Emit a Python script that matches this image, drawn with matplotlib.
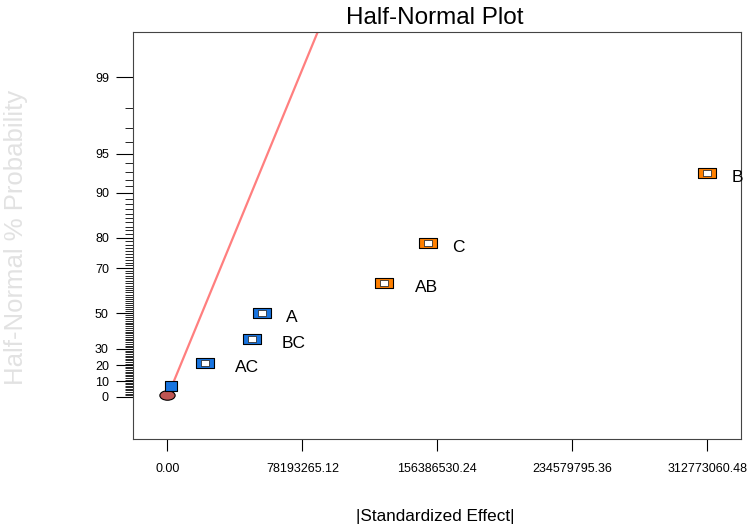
import matplotlib
matplotlib.use("Agg")
import matplotlib.pyplot as plt
from matplotlib.path import Path
from matplotlib.transforms import Affine2D
from statistics import NormalDist

# データ
effect_names = ["ABC", "AC", "BC", "A", "AB", "C", "B"]
effect_values = [1.9e6, 21.6e6, 48.7e6, 54.9e6, 125.7e6, 151.2e6, 312773060.48]
effect_pct = [7.14, 21.43, 35.71, 50.0, 64.29, 78.57, 92.86]
effect_colors = ["#1874E0", "#1874E0", "#1874E0", "#1874E0", "#FF8000", "#FF8000", "#FF8000"]
error_value = [0.0]
error_pct = [1.0]
fit_x = [0.0, 100e6]
fit_z = [0.0, 3.378]
x_ticks = [0.00, 78193265.12, 156386530.24, 234579795.36, 312773060.48]
y_major = [0, 10, 20, 30, 50, 70, 80, 90, 95, 99]
y_minor = [p for p in range(1, 99) if p not in y_major]


# 半正規確率 -> z
def HalfZ(p):
    return NormalDist().inv_cdf(0.5 + p / 200.0)


plt.rcParams["font.family"] = ["Liberation Sans", "DejaVu Sans"]
fig = plt.figure(figsize=(7.47, 5.31), dpi=100)
ax = fig.add_axes([132.5 / 747, 1 - 439 / 531, (741 - 132.5) / 747, (439 - 32) / 531])

# 近似直線
ax.plot(fit_x, fit_z, color="#FF7F7F", linewidth=1.6, zorder=2)

# マーカー形状
rect_outer = [(-0.85, -0.5), (0.85, -0.5), (0.85, 0.5), (-0.85, 0.5), (-0.85, -0.5)]
rect_inner = [(-0.8, -0.5), (0.8, -0.5), (0.8, 0.5), (-0.8, 0.5), (-0.8, -0.5)]
rect_small = [(-0.65, -0.5), (0.65, -0.5), (0.65, 0.5), (-0.65, 0.5), (-0.65, -0.5)]
ellipse = Path.unit_circle().transformed(Affine2D().scale(1.0, 0.62))

# 誤差項
ax.plot(error_value, [HalfZ(p) for p in error_pct], linestyle="none", marker=ellipse,
        markersize=11, markerfacecolor="#BF5553", markeredgecolor="black",
        markeredgewidth=0.8, zorder=3)

for name, val, pct, col in zip(effect_names, effect_values, effect_pct, effect_colors):
    z = HalfZ(pct)
    if name == "ABC":
        ax.plot([val], [z], linestyle="none", marker=rect_small, markersize=8.5,
                markerfacecolor=col, markeredgecolor="black", markeredgewidth=0.8, zorder=4)
        continue
    ax.plot([val], [z], linestyle="none", marker=rect_outer, markersize=12.5,
            markerfacecolor=col, markeredgecolor="black", markeredgewidth=0.8, zorder=4)
    ax.plot([val], [z], linestyle="none", marker=rect_inner, markersize=6.3,
            markerfacecolor="white", markeredgecolor="#333333", markeredgewidth=0.6, zorder=5)
    ax.annotate(name, (val, z), xytext=(18 + 12 * len(name), -4.5), textcoords="offset pixels",
                ha="center", va="center", fontsize=12.5, zorder=6)

ax.set_xlim(-20.27e6, 332.4e6)
ax.set_ylim(-0.341, 2.941)

ax.set_xticks(x_ticks)
ax.set_xticklabels(["%.2f" % v for v in x_ticks], fontsize=9)
ax.set_yticks([HalfZ(p) for p in y_major])
ax.set_yticklabels([str(p) for p in y_major], fontsize=9)
ax.set_yticks([HalfZ(p) for p in y_minor], minor=True)
ax.tick_params(axis="x", direction="out", length=8.6, width=0.8, pad=9)
ax.tick_params(axis="y", which="major", direction="out", length=12, width=0.8, pad=5)
ax.tick_params(axis="y", which="minor", direction="out", length=5.8, width=0.6)
for s in ax.spines.values():
    s.set_linewidth(0.8)
    s.set_color("#444444")

fig.text(435 / 747, 1 - 18 / 531, "Half-Normal Plot", ha="center", va="center", fontsize=17.5)
fig.text(435 / 747, 1 - 517 / 531, "|Standardized Effect|", ha="center", va="center", fontsize=12.3)
# y軸ラベル（元画像ではかすれている）
fig.text(16 / 747, 1 - 237 / 531, "Half-Normal % Probability", ha="center", va="center",
         rotation=90, fontsize=18.5, color="#e2e2e2")

fig.savefig("out.png", dpi=100)
